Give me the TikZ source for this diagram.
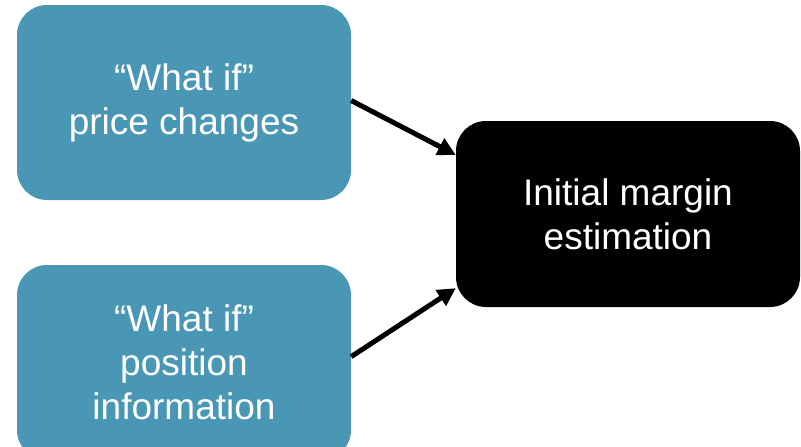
\documentclass[tikz,border=0pt]{standalone}
\usepackage{fontspec}
\setmainfont{Liberation Sans}
\usetikzlibrary{arrows.meta,calc}
\definecolor{tealbox}{RGB}{73,151,181}
\tikzset{
  box/.style={rounded corners=30pt, inner sep=0pt, align=center, text=white,
    font=\fontsize{37}{44}\selectfont},
  inbox/.style={box, fill=tealbox, minimum width=334pt, minimum height=195pt},
  outbox/.style={box, fill=black, minimum width=344pt, minimum height=186pt},
  conn/.style={line width=5pt, -{Triangle[length=18pt,width=18pt]}}
}
\begin{document}
\begin{tikzpicture}[x=1pt,y=-1pt]
\useasboundingbox (0,0) rectangle (801,447);
\node[inbox] (top) at (184,102.5) {``What if''\\price changes};
\node[inbox] (bot) at (184,362.5) {``What if''\\position\\information};
\node[outbox] (res) at (628,214) {Initial margin\\estimation};
\coordinate (t1) at ($(res.north west)!0.183!(res.south west)$);
\coordinate (t2) at ($(res.north west)!0.898!(res.south west)$);
\coordinate (s1) at ($(top.north east)!0.49!(top.south east)$);
\coordinate (s2) at ($(bot.north east)!0.47!(bot.south east)$);
\draw[conn] (s1) -- (t1);
\draw[conn] (s2) -- (t2);
\end{tikzpicture}
\end{document}
